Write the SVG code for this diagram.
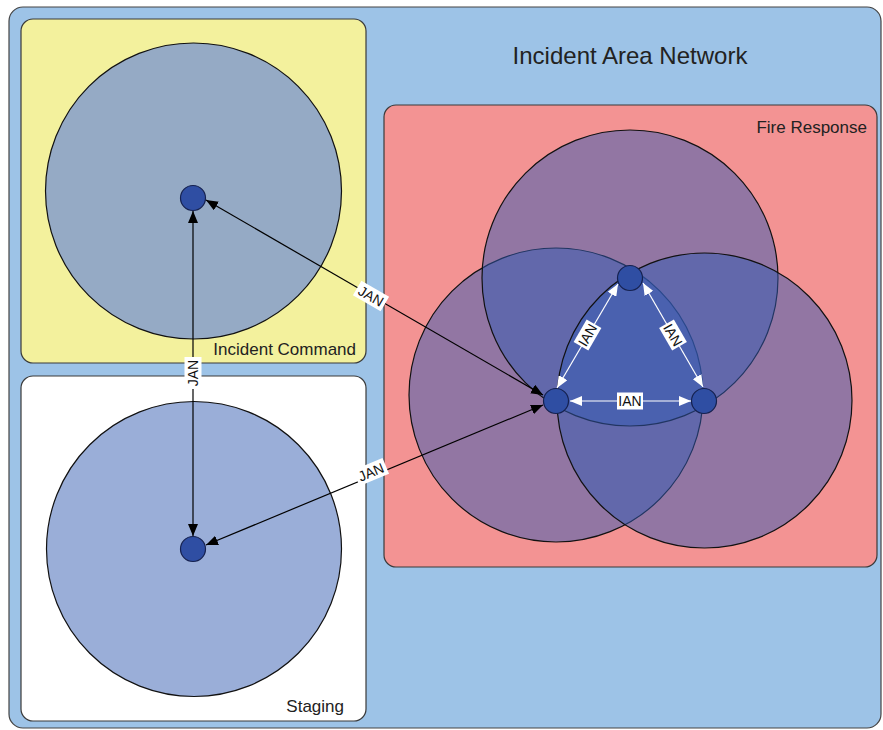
<svg xmlns="http://www.w3.org/2000/svg" width="883" height="730" viewBox="0 0 883 730">
<defs>
<style>
.box{stroke:#3a3a3a;stroke-width:1.2}
.rng{stroke:#111;stroke-width:1.2}
.frng{fill:rgb(50,90,180);fill-opacity:0.5;stroke:#111;stroke-width:1.2}
.node{fill:#2f4ea3;stroke:#15214f;stroke-width:1.2}
.t{font-family:"Liberation Sans",Arial,sans-serif;fill:#222}
.jan{stroke:#000;stroke-width:1.2;fill:none;marker-start:url(#ab);marker-end:url(#ab)}
.ian{stroke:#fff;stroke-width:1.2;fill:none;marker-start:url(#aw);marker-end:url(#aw)}
.lbl{font-family:"Liberation Sans",Arial,sans-serif;font-size:14px;fill:#111;text-anchor:middle}
.lb{fill:#fff}
</style>
<marker id="ab" viewBox="0 0 12 10" refX="12" refY="5" markerWidth="12" markerHeight="10" markerUnits="userSpaceOnUse" orient="auto-start-reverse"><path d="M0,0 L12,5 L0,10 z" fill="#000"/></marker>
<marker id="aw" viewBox="0 0 12 10" refX="12" refY="5" markerWidth="12" markerHeight="10" markerUnits="userSpaceOnUse" orient="auto-start-reverse"><path d="M0,0 L12,5 L0,10 z" fill="#fff"/></marker>
</defs>
<rect width="883" height="730" fill="#ffffff"/>
<g id="network">
<rect x="9" y="7" width="872" height="721" rx="14" fill="#9dc3e7" stroke="#444" stroke-width="1.2"/>
<text class="t" x="630" y="64" font-size="24" text-anchor="middle">Incident Area Network</text>
</g>
<g id="incident-command">
<rect class="box" x="21" y="19" width="345" height="344" rx="12" fill="#f3f19d"/>
<circle class="rng" cx="193.5" cy="191" r="148" fill="#95aac5"/>
<text class="t" x="356" y="355" font-size="17" text-anchor="end">Incident Command</text>
</g>
<g id="staging">
<rect class="box" x="21" y="376" width="345" height="345" rx="12" fill="#ffffff"/>
<circle class="rng" cx="194" cy="549" r="147.5" fill="#9aaed8"/>
<text class="t" x="344" y="712" font-size="17" text-anchor="end">Staging</text>
</g>
<g id="fire-response">
<rect class="box" x="384" y="105" width="493" height="462" rx="12" fill="#f39393"/>
<text class="t" x="867" y="133" font-size="17" text-anchor="end">Fire Response</text>
<circle class="frng" cx="556" cy="395" r="147"/>
<circle class="frng" cx="630" cy="278" r="148"/>
<circle class="frng" cx="704.5" cy="400.5" r="147.5"/>
</g>
<g id="nodes">
<circle id="ic-node" class="node" cx="193" cy="198" r="12.5"/>
<circle id="staging-node" class="node" cx="193" cy="549" r="12.5"/>
<circle id="fire-top" class="node" cx="630" cy="278" r="12.5"/>
<circle id="fire-left" class="node" cx="556" cy="401" r="12.5"/>
<circle id="fire-right" class="node" cx="704" cy="401" r="12.5"/>
</g>
<g id="connectors">
<line class="jan" x1="193" y1="536" x2="193" y2="211"/>
<line class="jan" x1="543" y1="395" x2="206" y2="200"/>
<line class="jan" x1="543" y1="405" x2="206" y2="545"/>
<line class="ian" x1="570" y1="401" x2="691" y2="401"/>
<line class="ian" x1="557" y1="388" x2="618" y2="284"/>
<line class="ian" x1="643" y1="283" x2="703" y2="387"/>
<g transform="translate(193,373) rotate(-90)"><rect class="lb" x="-16" y="-8.5" width="32" height="17"/><text class="lbl" x="0" y="5">JAN</text></g>
<g transform="translate(371,296) rotate(30)"><rect class="lb" x="-16" y="-8.5" width="32" height="17"/><text class="lbl" x="0" y="5">JAN</text></g>
<g transform="translate(371,472) rotate(-22.6)"><rect class="lb" x="-16" y="-8.5" width="32" height="17"/><text class="lbl" x="0" y="5">JAN</text></g>
<g transform="translate(630,401)"><rect class="lb" x="-13" y="-8.5" width="26" height="17"/><text class="lbl" x="0" y="5">IAN</text></g>
<g transform="translate(587.5,335) rotate(-60)"><rect class="lb" x="-13" y="-8.5" width="26" height="17"/><text class="lbl" x="0" y="5">IAN</text></g>
<g transform="translate(673,335) rotate(60)"><rect class="lb" x="-13" y="-8.5" width="26" height="17"/><text class="lbl" x="0" y="5">IAN</text></g>
</g>
</svg>
